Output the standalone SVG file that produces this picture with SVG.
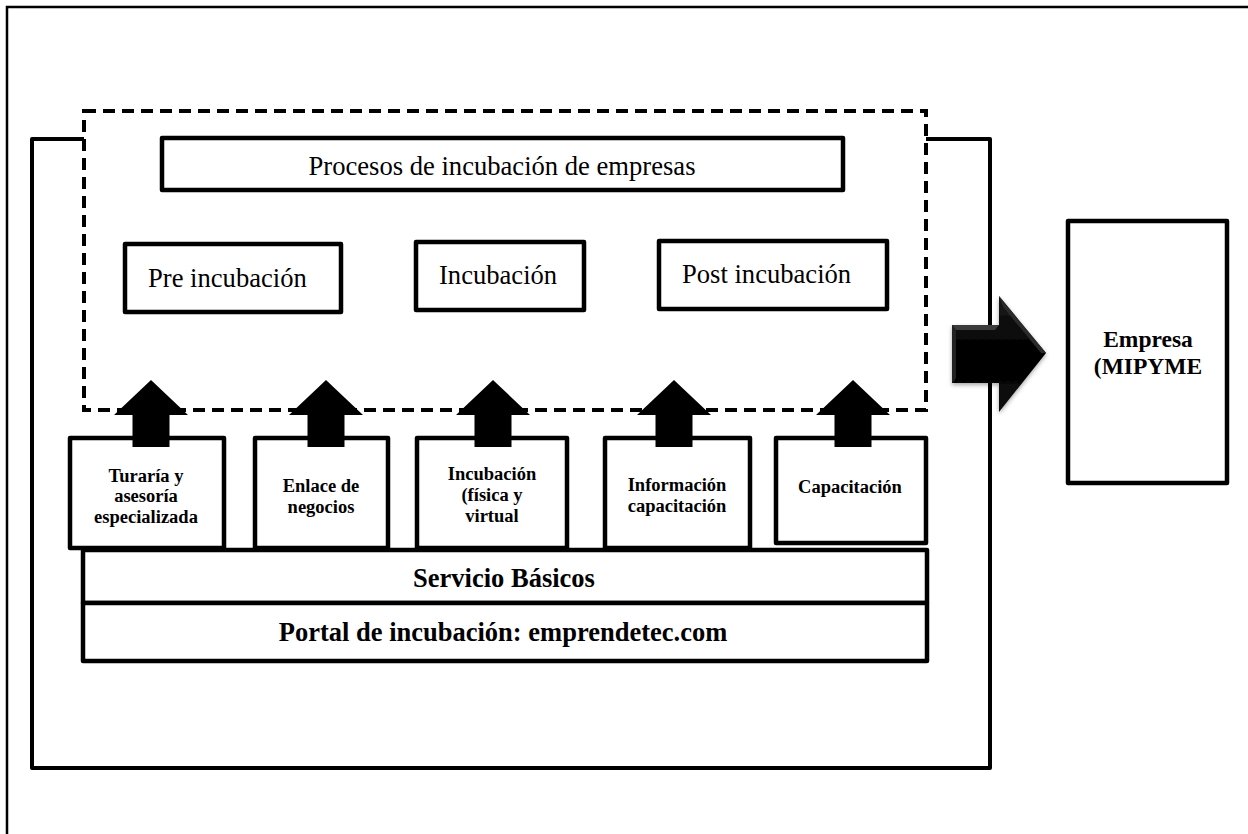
<svg xmlns="http://www.w3.org/2000/svg" width="1248" height="834" viewBox="0 0 1248 834">
  <style>
    .box { fill: #fff; stroke: #000; stroke-width: 4.5; stroke-linejoin: round; }
    .frame { fill: #fff; stroke: #000; stroke-width: 4; stroke-linejoin: round; }
    .dash { fill: #fff; stroke: #000; stroke-width: 4; stroke-dasharray: 12 7; }
    .reg { font-family: "Liberation Serif", "Times New Roman", serif; font-size: 26.6px; fill: #000; }
    .big { font-family: "Liberation Serif", "Times New Roman", serif; font-size: 26.5px; font-weight: bold; fill: #000; text-anchor: middle; }
    .lbl { font-family: "Liberation Serif", "Times New Roman", serif; font-size: 18.5px; font-weight: bold; fill: #000; text-anchor: middle; }
    .emp { font-family: "Liberation Serif", "Times New Roman", serif; font-size: 23.5px; font-weight: bold; fill: #000; text-anchor: middle; }
    .up { fill: #000; }
  </style>
  <defs>
    <linearGradient id="arrowFill" x1="0" y1="0" x2="0" y2="1">
      <stop offset="0" stop-color="#1a1a1a"/>
      <stop offset="0.5" stop-color="#000"/>
      <stop offset="1" stop-color="#0d0d0d"/>
    </linearGradient>
    <filter id="softShadow" x="-20%" y="-20%" width="140%" height="140%">
      <feDropShadow dx="0" dy="2" stdDeviation="2" flood-color="#000" flood-opacity="0.35"/>
    </filter>
  </defs>

  <rect width="1248" height="834" fill="#fff"/>

  <!-- page border -->
  <path d="M7,834 V7 H1248" fill="none" stroke="#000" stroke-width="2.5"/>

  <!-- system frame -->
  <g id="system-frame">
    <rect class="frame" x="32" y="139" width="958" height="629"/>
  </g>

  <!-- incubation processes area -->
  <g id="process-area">
    <rect class="dash" x="84" y="111" width="842" height="299"/>
  </g>

  <g id="process-title">
    <rect class="box" x="162" y="138" width="681" height="52"/>
    <text class="reg" x="502" y="175" text-anchor="middle">Procesos de incubación de empresas</text>
  </g>

  <g id="pre-incubacion">
    <rect class="box" x="125" y="244" width="216" height="68"/>
    <text class="reg" x="148" y="287">Pre incubación</text>
  </g>

  <g id="incubacion">
    <rect class="box" x="416" y="242" width="168" height="68"/>
    <text class="reg" x="439" y="284">Incubación</text>
  </g>

  <g id="post-incubacion">
    <rect class="box" x="659" y="241" width="228" height="68"/>
    <text class="reg" x="682" y="283">Post incubación</text>
  </g>

  <!-- service boxes -->
  <g id="svc-turaria">
    <rect class="box" x="70" y="438" width="154" height="110"/>
    <text class="lbl" x="146" y="482">Turaría y</text>
    <text class="lbl" x="146" y="502">asesoría</text>
    <text class="lbl" x="146" y="523">especializada</text>
  </g>

  <g id="svc-enlace">
    <rect class="box" x="255" y="438" width="133" height="110"/>
    <text class="lbl" x="321" y="492">Enlace de</text>
    <text class="lbl" x="321" y="513">negocios</text>
  </g>

  <g id="svc-incubacion">
    <rect class="box" x="417" y="438" width="150" height="110"/>
    <text class="lbl" x="492" y="480">Incubación</text>
    <text class="lbl" x="492" y="501">(física y</text>
    <text class="lbl" x="492" y="522">virtual</text>
  </g>

  <g id="svc-informacion">
    <rect class="box" x="605" y="438" width="145" height="110"/>
    <text class="lbl" x="677" y="491">Información</text>
    <text class="lbl" x="677" y="512">capacitación</text>
  </g>

  <g id="svc-capacitacion">
    <rect class="box" x="776" y="438" width="150" height="105"/>
    <text class="lbl" x="850" y="493">Capacitación</text>
  </g>

  <g id="servicio-basicos">
    <rect class="box" x="83" y="550" width="844" height="53"/>
    <text class="big" x="504" y="587">Servicio Básicos</text>
  </g>

  <g id="portal">
    <rect class="box" x="83" y="603" width="844" height="58"/>
    <text class="big" x="503" y="641">Portal de incubación: emprendetec.com</text>
  </g>

  <!-- connectors -->
  <g id="connectors">
    <path class="up" d="M151,380 L188,415 L169.5,415 L169.5,447 L132.5,447 L132.5,415 L114,415 Z"/>
    <path class="up" d="M326,380 L363,415 L344.5,415 L344.5,447 L307.5,447 L307.5,415 L289,415 Z"/>
    <path class="up" d="M493,380 L530,415 L511.5,415 L511.5,447 L474.5,447 L474.5,415 L456,415 Z"/>
    <path class="up" d="M674,380 L711,415 L692.5,415 L692.5,447 L655.5,447 L655.5,415 L637,415 Z"/>
    <path class="up" d="M853,380 L890,415 L871.5,415 L871.5,447 L834.5,447 L834.5,415 L816,415 Z"/>

    <g id="output-arrow" filter="url(#softShadow)">
      <path d="M952,325 L999,325 L999,296 L1046,353 L999,412 L999,383 L952,383 Z" fill="url(#arrowFill)"/>
      <!-- bevel highlights -->
      <path d="M952,325 L999,325 L995,330 L956,330 Z" fill="#3a3a3a"/>
      <path d="M999,296 L1046,353 L1041,353 L1003,307 Z" fill="#2a2a2a"/>
      <path d="M952,325 L956,330 L956,378 L952,383 Z" fill="#242424"/>
    </g>
  </g>

  <g id="empresa">
    <rect class="box" x="1068" y="221" width="159" height="262"/>
    <text class="emp" x="1148" y="347">Empresa</text>
    <text class="emp" x="1148" y="374">(MIPYME</text>
  </g>
</svg>
